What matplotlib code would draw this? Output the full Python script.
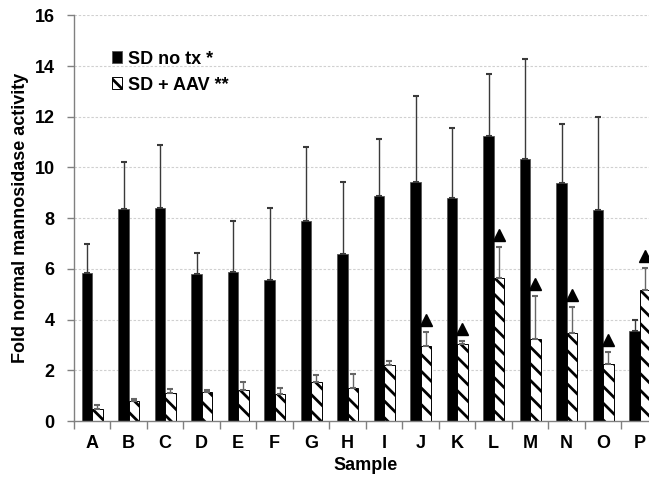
import numpy as np
import matplotlib
matplotlib.use('Agg')
import matplotlib.pyplot as plt

plt.rcParams['font.family'] = ['Liberation Sans', 'DejaVu Sans']
plt.rcParams['font.weight'] = 'bold'
plt.rcParams['hatch.linewidth'] = 2.0

# data
samples = ['A', 'B', 'C', 'D', 'E', 'F', 'G', 'H', 'I', 'J', 'K', 'L', 'M', 'N', 'O', 'P']
sd_notx = [5.85, 8.36, 8.39, 5.78, 5.87, 5.56, 7.87, 6.60, 8.88, 9.44, 8.81, 11.24, 10.33, 9.40, 8.32, 3.56]
sd_notx_err = [1.12, 1.84, 2.49, 0.83, 2.00, 2.84, 2.95, 2.81, 2.24, 3.36, 2.73, 2.44, 3.94, 2.30, 3.66, 0.41]
sd_aav = [0.46, 0.80, 1.12, 1.13, 1.21, 1.05, 1.54, 1.29, 2.21, 2.97, 3.02, 5.63, 3.25, 3.48, 2.25, 5.17]
sd_aav_err = [0.17, 0.08, 0.13, 0.08, 0.33, 0.25, 0.29, 0.58, 0.17, 0.53, 0.12, 1.24, 1.68, 1.02, 0.46, 0.85]
flagged = [0, 0, 0, 0, 0, 0, 0, 0, 0, 1, 1, 1, 1, 1, 1, 1]
yticks = [0, 2, 4, 6, 8, 10, 12, 14, 16]

x = np.arange(len(samples))
w = 0.285

fig = plt.figure(figsize=(6.49, 4.78), dpi=100)
ax = fig.add_axes([0.114, 0.1192, 0.8998, 0.8487])

# dashed horizontal guide lines
for yv in yticks[1:]:
    ax.axhline(yv, linestyle=(0, (2.2, 1.6)), color='#d0d0d0', linewidth=0.8, zorder=0)

ax.bar(x - w / 2, sd_notx, w, color='black', edgecolor='#555555', linewidth=0.6,
       label='SD no tx *', zorder=2)
ax.bar(x + w / 2, sd_aav, w, color='white', edgecolor='black', linewidth=0.7,
       hatch='\\\\', label='SD + AAV **', zorder=2)

# only the upper half of the error bars is shown
zeros = np.zeros(len(samples))
ax.errorbar(x - w / 2, sd_notx, yerr=[zeros, sd_notx_err], fmt='none', ecolor='#3a3a3a',
            elinewidth=1.0, capsize=2.5, capthick=1.5, zorder=3)
ax.errorbar(x + w / 2, sd_aav, yerr=[zeros, sd_aav_err], fmt='none', ecolor='#666666',
            elinewidth=1.0, capsize=2.5, capthick=1.5, zorder=3)

# significance triangles above the AAV error bars
fx = [x[i] + w / 2 for i in range(len(samples)) if flagged[i]]
fy = [sd_aav[i] + sd_aav_err[i] + 0.48 for i in range(len(samples)) if flagged[i]]
ax.plot(fx, fy, linestyle='none', marker='^', color='black', markersize=9,
        clip_on=False, zorder=4)

ax.set_xlim(-0.5, len(samples) - 0.5)
ax.set_ylim(0, 16)
ax.set_yticks(yticks)
ax.set_xticks(x)
ax.set_xticklabels(samples)
ax.set_xticks(np.arange(-0.5, len(samples), 1), minor=True)
ax.tick_params(axis='x', which='major', length=0, pad=10, labelsize=13)
ax.tick_params(axis='x', which='minor', length=6, color='#808080', width=1)
ax.tick_params(axis='y', length=5, color='#808080', width=1, labelsize=13, pad=9)

for s in ['top', 'right']:
    ax.spines[s].set_visible(False)
for s in ['left', 'bottom']:
    ax.spines[s].set_color('#808080')
    ax.spines[s].set_linewidth(1)

ax.set_ylabel('Fold normal mannosidase activity', fontsize=13, fontweight='bold', labelpad=4)
ax.set_xlabel('Sample', fontsize=13, fontweight='bold', labelpad=4)

ax.legend(loc='upper left', bbox_to_anchor=(0.05, 0.935), frameon=False, borderpad=0,
          prop={'size': 13, 'weight': 'bold'}, handlelength=0.55, handleheight=0.65,
          handletextpad=0.3, labelspacing=0.5)

fig.savefig('out.png', dpi=100)
